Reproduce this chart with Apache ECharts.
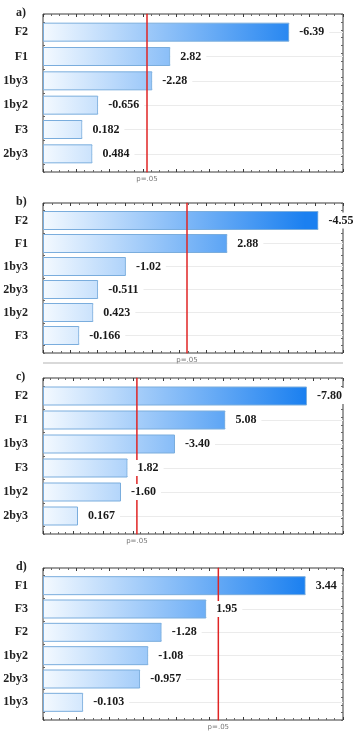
<!DOCTYPE html>
<html>
<head>
<meta charset="utf-8">
<script src="https://cdn.jsdelivr.net/npm/echarts@6/dist/echarts.min.js"></script>
<style>
html, body { margin: 0; padding: 0; background: #fff; }
#chart { width: 353px; height: 735px; }
</style>
</head>
<body>
<div id="chart"></div>
<script>
// effects per panel, top to bottom as drawn
var catsA = ['F2', 'F1', '1by3', '1by2', 'F3', '2by3'];
var valsA = [-6.39, 2.82, -2.28, -0.656, 0.182, 0.484];
var catsB = ['F2', 'F1', '1by3', '2by3', '1by2', 'F3'];
var valsB = [-4.55, 2.88, -1.02, -0.511, 0.423, -0.166];
var catsC = ['F2', 'F1', '1by3', 'F3', '1by2', '2by3'];
var valsC = [-7.80, 5.08, -3.40, 1.82, -1.60, 0.167];
var catsD = ['F1', 'F3', 'F2', '1by2', '2by3', '1by3'];
var valsD = [3.44, 1.95, -1.28, -1.08, -0.957, -0.103];
var tags = ['a)', 'b)', 'c)', 'd)'];
// critical t for p=.05 (red line)
var tCrit = [2.12, 2.14, 2.13, 2.13];
var critLabel = 'p=.05';

// layout of the four panels
var panels = [
    { cats: catsA, vals: valsA, min: -1, max: 8, step: 1, minor: 4, top: 14, bottom: 172 },
    { cats: catsB, vals: valsB, min: -0.5, max: 5, step: 0.5, minor: 3, top: 203, bottom: 353 },
    { cats: catsC, vals: valsC, min: -1, max: 9, step: 1, minor: 4, top: 378, bottom: 534 },
    { cats: catsD, vals: valsD, min: -0.5, max: 4, step: 0.5, minor: 4, top: 568, bottom: 720 }
];

var serif = '"Liberation Serif", "DejaVu Serif", serif';
var frameColor = '#3a3a3a';
var barFill = {
    type: 'linear', x: 44, y: 0, x2: 305, y2: 0, global: true,
    colorStops: [{ offset: 0, color: '#f3f9ff' }, { offset: 1, color: '#1b80f0' }]
};

var grids = [], xAxes = [], yAxes = [], series = [], titles = [];

panels.forEach(function (p, i) {
    var band = (p.bottom - p.top - 12) / 6;

    // frame grid: box with inside ticks on all four sides
    var f = grids.length;
    grids.push({
        left: 43, right: 10, top: p.top, height: p.bottom - p.top, outerBoundsMode: 'none',
        show: true, borderColor: frameColor, borderWidth: 1, backgroundColor: 'transparent'
    });
    // bar grid: categories sit on band centres
    var g = grids.length;
    grids.push({ left: 43, right: 10, top: p.top + 6 + band / 2, height: band * 5, outerBoundsMode: 'none' });

    var fx = xAxes.length;
    ['bottom', 'top'].forEach(function (pos) {
        xAxes.push({
            gridIndex: f, type: 'value', position: pos, min: p.min, max: p.max, interval: p.step,
            axisLine: { show: false, onZero: false },
            axisTick: { show: true, inside: true, length: 3, lineStyle: { color: frameColor } },
            minorTick: { show: true, splitNumber: p.minor, length: 2, lineStyle: { color: '#666' } },
            axisLabel: { show: false },
            splitLine: { show: false }
        });
    });
    var fy = yAxes.length;
    ['left', 'right'].forEach(function (pos) {
        yAxes.push({
            gridIndex: f, type: 'value', position: pos, min: 0, max: 1, interval: 0.05,
            axisLine: { show: false, onZero: false },
            axisTick: { show: true, inside: true, length: 2, lineStyle: { color: '#666' } },
            axisLabel: { show: false },
            splitLine: { show: false }
        });
    });

    // bar axes; bars start at the left edge of the axis
    var bx = xAxes.length;
    xAxes.push({ gridIndex: g, type: 'value', min: p.min, max: p.max, startValue: p.min, show: false });
    var by = yAxes.length;
    yAxes.push({
        gridIndex: g, type: 'category', data: p.cats, inverse: true, boundaryGap: false,
        axisLine: { show: false }, axisTick: { show: false },
        axisLabel: { margin: 15, fontFamily: serif, fontWeight: 'bold', fontSize: 12, color: '#222' },
        splitLine: { show: true, lineStyle: { color: '#ebebeb', width: 1 } }
    });

    var absVals = p.vals.map(function (v) { return Math.abs(v); });

    series.push({
        type: 'bar', xAxisIndex: bx, yAxisIndex: by, data: absVals,
        barWidth: 19, clip: false, silent: true, z: 2,
        itemStyle: { color: barFill, borderColor: '#7aaddd', borderWidth: 1 }
    });

    // red significance line across the whole frame
    series.push({
        type: 'line', xAxisIndex: fx, yAxisIndex: fy,
        data: [
            { value: [tCrit[i], 0], label: { show: true, position: 'bottom', distance: 3, formatter: critLabel, fontSize: 7, color: '#777', fontFamily: 'DejaVu Sans' } },
            [tCrit[i], 1]
        ],
        symbol: 'circle', symbolSize: 1, itemStyle: { color: '#e02424' },
        lineStyle: { color: '#e02424', width: 1.5 }, clip: false, silent: true, z: 3
    });

    // value labels on white boxes, over the red line
    series.push({
        type: 'bar', xAxisIndex: bx, yAxisIndex: by, data: absVals,
        barWidth: 19, barGap: '-100%', clip: false, silent: true, z: 4,
        itemStyle: { color: 'rgba(0,0,0,0)' },
        label: {
            show: true, position: 'right', distance: 0, padding: [2, 5, 2, 10],
            backgroundColor: '#fff', lineHeight: 12,
            fontFamily: serif, fontWeight: 'bold', fontSize: 12, color: '#1a1a1a',
            formatter: function (q) { return p.vals[q.dataIndex].toPrecision(3); }
        }
    });

    titles.push({
        text: tags[i], left: 16, top: p.top - 7, padding: 0,
        textStyle: { fontFamily: serif, fontWeight: 'bold', fontSize: 12, color: '#222' }
    });
});

var chart = echarts.init(document.getElementById('chart'));
chart.setOption({
    animation: false,
    backgroundColor: '#fff',
    title: titles,
    grid: grids,
    xAxis: xAxes,
    yAxis: yAxes,
    series: series,
    graphic: [
        { type: 'rect', left: 43, top: 362, shape: { width: 300, height: 2 }, style: { fill: '#d9d9d9' } }
    ]
});
</script>
</body>
</html>
